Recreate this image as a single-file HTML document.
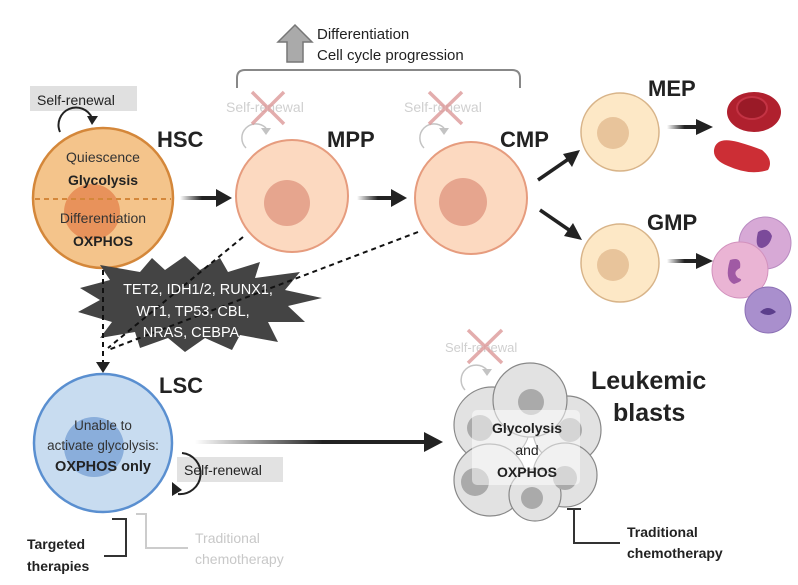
<!DOCTYPE html>
<html><head><meta charset="utf-8"><style>
html,body{margin:0;padding:0;background:#fff}
svg{display:block}
text{font-family:"Liberation Sans",sans-serif}
</style></head><body>
<svg width="798" height="585" viewBox="0 0 798 585" xmlns="http://www.w3.org/2000/svg">
<defs>
<linearGradient id="ga" x1="0" x2="1" y1="0" y2="0"><stop offset="0" stop-color="#fff"/><stop offset="0.55" stop-color="#222"/></linearGradient>
</defs>
<!-- top bracket and arrow -->
<path d="M237,88 V78 Q237,70 245,70 H512 Q520,70 520,78 V88" fill="none" stroke="#888" stroke-width="2"/>
<path d="M295,25 L312,42 H303 V62 H287 V42 H278z" fill="#aaa" stroke="#777" stroke-width="1.5"/>
<text x="317" y="39" font-size="15" fill="#222">Differentiation</text>
<text x="317" y="60" font-size="15" fill="#222">Cell cycle progression</text>
<!-- HSC -->
<rect x="30" y="86" width="107" height="25" fill="#e0e0e0"/>
<text x="37" y="105" font-size="14" fill="#222">Self-renewal</text>
<path d="M60,132 A14,14 0 1 1 92,118" fill="none" stroke="#222" stroke-width="2"/>
<path d="M87,116 L98,116 L92,125z" fill="#222"/>
<circle cx="103" cy="198" r="70" fill="#f4c48b" stroke="#d4873a" stroke-width="2.5"/>
<circle cx="92" cy="212" r="28" fill="#e8925b"/>
<line x1="35" y1="199" x2="171" y2="199" stroke="#d4873a" stroke-width="2" stroke-dasharray="5,4"/>
<text x="103" y="162" font-size="14" fill="#333" text-anchor="middle">Quiescence</text>
<text x="103" y="185" font-size="14" font-weight="bold" fill="#222" text-anchor="middle">Glycolysis</text>
<text x="103" y="223" font-size="14" fill="#333" text-anchor="middle">Differentiation</text>
<text x="103" y="246" font-size="14" font-weight="bold" fill="#222" text-anchor="middle">OXPHOS</text>
<text x="157" y="147" font-size="22" font-weight="bold" fill="#222">HSC</text>
<!-- arrows -->
<rect x="180" y="196" width="40" height="4" fill="url(#ga)"/><path d="M216,189 L232,198 L216,207z" fill="#222"/>
<rect x="357" y="196" width="38" height="4" fill="url(#ga)"/><path d="M391,189 L407,198 L391,207z" fill="#222"/>
<!-- MPP -->
<g opacity="0.35"><text x="226" y="112" font-size="14" fill="#777">Self-renewal</text>
<path d="M246,148 A12,12 0 1 1 266,128" fill="none" stroke="#555" stroke-width="1.5"/><path d="M261,128 L271,128 L266,135z" fill="#555"/></g>
<path d="M252,92 L284,124 M284,92 L252,124" stroke="#d99" stroke-width="3.5" opacity="0.8"/>
<circle cx="292" cy="196" r="56" fill="#fcd9c0" stroke="#e69c7e" stroke-width="2"/>
<circle cx="287" cy="203" r="23" fill="#e6a58e"/>
<text x="327" y="147" font-size="22" font-weight="bold" fill="#222">MPP</text>
<!-- CMP -->
<g opacity="0.35"><text x="404" y="112" font-size="14" fill="#777">Self-renewal</text>
<path d="M424,148 A12,12 0 1 1 444,128" fill="none" stroke="#555" stroke-width="1.5"/><path d="M439,128 L449,128 L444,135z" fill="#555"/></g>
<path d="M429,92 L462,124 M462,92 L429,124" stroke="#d99" stroke-width="3.5" opacity="0.8"/>
<circle cx="471" cy="198" r="56" fill="#fcd9c0" stroke="#e69c7e" stroke-width="2"/>
<circle cx="463" cy="202" r="24" fill="#e6a58e"/>
<text x="500" y="147" font-size="22" font-weight="bold" fill="#222">CMP</text>
<line x1="538" y1="180" x2="570" y2="158" stroke="#222" stroke-width="3.5"/><path d="M580,150 L572,167 L563,154z" fill="#222"/>
<line x1="540" y1="210" x2="572" y2="232" stroke="#222" stroke-width="3.5"/><path d="M582,240 L564,236 L573,223z" fill="#222"/>
<!-- MEP / GMP -->
<circle cx="620" cy="132" r="39" fill="#fde8c6" stroke="#d8b489" stroke-width="1.5"/>
<circle cx="613" cy="133" r="16" fill="#e8c49b"/>
<text x="648" y="96" font-size="22" font-weight="bold" fill="#222">MEP</text>
<circle cx="620" cy="263" r="39" fill="#fde8c6" stroke="#d8b489" stroke-width="1.5"/>
<circle cx="613" cy="265" r="16" fill="#e8c49b"/>
<text x="647" y="230" font-size="22" font-weight="bold" fill="#222">GMP</text>
<rect x="667" y="125" width="32" height="4" fill="url(#ga)"/><path d="M696,119 L713,127 L696,135z" fill="#222"/>
<rect x="667" y="259" width="32" height="4" fill="url(#ga)"/><path d="M696,253 L713,261 L696,269z" fill="#222"/>
<!-- RBCs -->
<ellipse cx="754" cy="112" rx="27" ry="20" fill="#b0202e"/>
<ellipse cx="752" cy="108" rx="15" ry="11" fill="#9a1a27" stroke="#c43344" stroke-width="2"/>
<path d="M714,150 Q716,136 738,142 Q752,146 762,150 Q774,160 768,170 Q750,176 728,166 Q713,160 714,150z" fill="#cc2e35"/>
<!-- granulocytes -->
<circle cx="765" cy="243" r="26" fill="#d7a9d6" stroke="#b98bc1"/>
<path d="M758,232 q10,-6 14,4 q-2,10 -10,12 q-8,0 -4,-16z" fill="#7b4a9a"/>
<circle cx="740" cy="270" r="28" fill="#eab4d4" stroke="#d291bd"/>
<path d="M730,260 q12,-4 10,8 q-8,4 -2,10 q8,2 -4,6 q-10,-4 -4,-24z" fill="#a05aa4"/>
<circle cx="768" cy="310" r="23" fill="#a98fcd" stroke="#8c70b5"/>
<path d="M760,312 q8,-8 16,0 q-8,6 -16,0z" fill="#5b3e8c"/>
<!-- star -->
<polygon points="185,256 200,270 220,258 228,272 260,262 255,278 300,272 285,290 322,298 288,306 305,322 268,322 278,342 240,335 232,350 205,338 185,352 168,338 140,348 135,332 100,338 112,322 78,312 100,300 80,288 110,280 100,265 140,272 152,258 165,270" fill="#444"/>
<!-- dashed connectors -->
<line x1="103" y1="270" x2="103" y2="364" stroke="#111" stroke-width="2" stroke-dasharray="5,4"/>
<line x1="243" y1="237" x2="108" y2="348" stroke="#111" stroke-width="2" stroke-dasharray="5,4"/>
<line x1="418" y1="232" x2="108" y2="350" stroke="#111" stroke-width="2" stroke-dasharray="5,4"/>
<path d="M96,362 L110,362 L103,373z" fill="#222"/>
<text x="198" y="294" font-size="14.5" fill="#fff" text-anchor="middle">TET2, IDH1/2, RUNX1,</text>
<text x="193" y="316" font-size="14.5" fill="#fff" text-anchor="middle">WT1, TP53, CBL,</text>
<text x="191" y="337" font-size="14.5" fill="#fff" text-anchor="middle">NRAS, CEBPA</text>
<!-- LSC -->
<circle cx="103" cy="443" r="69" fill="#c8dcf0" stroke="#5a8fd0" stroke-width="2.5"/>
<circle cx="94" cy="447" r="30" fill="#8aaedb"/>
<text x="103" y="430" font-size="13.5" fill="#333" text-anchor="middle">Unable to</text>
<text x="103" y="450" font-size="13.5" fill="#333" text-anchor="middle">activate glycolysis:</text>
<text x="103" y="471" font-size="14.5" font-weight="bold" fill="#222" text-anchor="middle">OXPHOS only</text>
<text x="159" y="393" font-size="22" font-weight="bold" fill="#222">LSC</text>
<rect x="177" y="457" width="106" height="25" fill="#e2e2e2"/>
<text x="184" y="475" font-size="14" fill="#222">Self-renewal</text>
<path d="M182,453 A20,20 0 1 1 178,494" fill="none" stroke="#222" stroke-width="2"/>
<path d="M172,482 L182,490 L172,496z" fill="#222"/>
<rect x="195" y="440" width="232" height="4" fill="url(#ga)"/><path d="M424,432 L443,442 L424,452z" fill="#222"/>
<!-- LSC inhibition -->
<path d="M112,519 H126 V556 H104" fill="none" stroke="#333" stroke-width="2"/>
<text x="27" y="549" font-size="14" font-weight="bold" fill="#222">Targeted</text>
<text x="27" y="571" font-size="14" font-weight="bold" fill="#222">therapies</text>
<path d="M136,514 H146 V548 H188" fill="none" stroke="#ccc" stroke-width="2"/>
<text x="195" y="543" font-size="14" fill="#c8c8c8">Traditional</text>
<text x="195" y="564" font-size="14" fill="#c8c8c8">chemotherapy</text>
<!-- blasts -->
<g opacity="0.35"><text x="445" y="352" font-size="13" fill="#777">Self-renewal</text>
<path d="M465,390 A12,12 0 1 1 487,370" fill="none" stroke="#555" stroke-width="1.5"/><path d="M482,369 L492,369 L487,376z" fill="#555"/></g>
<path d="M468,330 L502,363 M502,330 L468,363" stroke="#d99" stroke-width="3.5" opacity="0.8"/>
<g stroke="#888" stroke-width="1.2" fill="#e2e2e2">
<circle cx="492" cy="425" r="38"/><circle cx="567" cy="430" r="34"/>
<circle cx="530" cy="400" r="37"/>
<circle cx="490" cy="480" r="36"/><circle cx="565" cy="475" r="32"/>
<circle cx="535" cy="495" r="26"/>
</g>
<g fill="#aaa"><circle cx="480" cy="428" r="13"/><circle cx="531" cy="402" r="13"/><circle cx="475" cy="482" r="14"/><circle cx="565" cy="478" r="12"/><circle cx="532" cy="498" r="11"/><circle cx="570" cy="430" r="12"/></g>
<rect x="472" y="410" width="108" height="75" rx="5" fill="#fff" opacity="0.5"/>
<text x="527" y="433" font-size="14" font-weight="bold" fill="#222" text-anchor="middle">Glycolysis</text>
<text x="527" y="455" font-size="14" fill="#222" text-anchor="middle">and</text>
<text x="527" y="477" font-size="14" font-weight="bold" fill="#222" text-anchor="middle">OXPHOS</text>
<text x="591" y="389" font-size="25" font-weight="bold" fill="#222">Leukemic</text>
<text x="613" y="421" font-size="25" font-weight="bold" fill="#222">blasts</text>
<path d="M567,509 H581 M574,509 V543 H620" fill="none" stroke="#333" stroke-width="2"/>
<text x="627" y="537" font-size="14" font-weight="bold" fill="#222">Traditional</text>
<text x="627" y="558" font-size="14" font-weight="bold" fill="#222">chemotherapy</text>
</svg>
</body></html>
